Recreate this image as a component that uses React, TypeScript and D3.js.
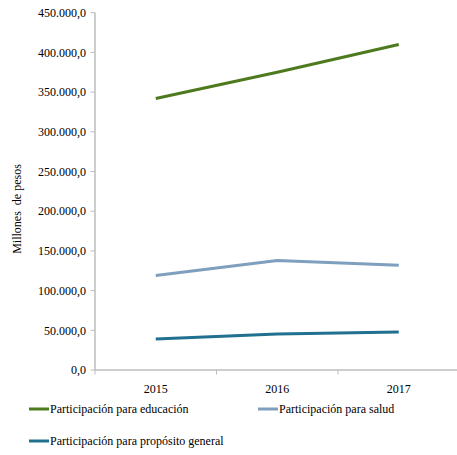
import React from "react";
import * as d3 from "d3";

const years = ["2015", "2016", "2017"];
const educacion = [342000, 375000, 410000];
const salud = [119000, 137800, 132000];
const general = [39100, 45400, 47900];
const yTicks = [0, 50000, 100000, 150000, 200000, 250000, 300000, 350000, 400000, 450000];
const seriesNames = [
  "Participación para educación",
  "Participación para salud",
  "Participación para propósito general",
];

const W = 457;
const H = 455;
const font = '"Times New Roman", "Liberation Serif", Tinos, serif';

export default function App() {
  const x = d3.scaleBand<string>().domain(years).range([95, 459.5]).padding(0);
  const y = d3.scaleLinear().domain([0, 450000]).range([370, 12.7]);
  const fmt = (v: number) => {
    const s = d3.format(",.1f")(v);
    return s.replace(/,/g, "#").replace(".", ",").replace(/#/g, ".");
  };
  const line = d3
    .line<number>()
    .x((_, i) => (x(years[i]) as number) + x.bandwidth() / 2)
    .y((d) => y(d));
  const series = [
    { name: seriesNames[0], data: educacion, color: "#4e7a1e" },
    { name: seriesNames[1], data: salud, color: "#7f9fbe" },
    { name: seriesNames[2], data: general, color: "#21708f" },
  ];
  const legendPos = [
    { x: 29, y: 409 },
    { x: 258, y: 409 },
    { x: 29, y: 441 },
  ];
  const axisColor = "#bcbcbc";
  const boundaries = [95, ...years.map((yr) => (x(yr) as number) + x.bandwidth())];
  return (
    <svg
      width={W}
      height={H}
      style={{ position: "absolute", left: 0, top: 0, background: "#fff" }}
    >
      <style>{`text { font-family: ${font}; font-size: 12px; fill: #000; }`}</style>
      {/* y axis */}
      <line x1={95} x2={95} y1={y(450000)} y2={370} stroke={axisColor} strokeWidth={1.5} />
      {yTicks.map((t) => (
        <g key={t}>
          <line x1={90.5} x2={95} y1={y(t)} y2={y(t)} stroke={axisColor} strokeWidth={1} />
          <text x={86} y={y(t)} dy="0.35em" textAnchor="end">
            {fmt(t)}
          </text>
        </g>
      ))}
      {/* x axis */}
      <line x1={95} x2={W} y1={370} y2={370} stroke={axisColor} strokeWidth={1.5} />
      {boundaries.map((b, i) => (
        <line key={i} x1={b} x2={b} y1={370} y2={374.5} stroke={axisColor} strokeWidth={1} />
      ))}
      {years.map((yr) => (
        <text
          key={yr}
          x={(x(yr) as number) + x.bandwidth() / 2}
          y={393}
          textAnchor="middle"
        >
          {yr}
        </text>
      ))}
      {/* y title */}
      <text
        transform="translate(21,209) rotate(-90)"
        textAnchor="middle"
        style={{ whiteSpace: "pre" }}
      >
        {"Millones  de pesos"}
      </text>
      {/* lines */}
      {series.map((s) => (
        <path
          key={s.name}
          d={line(s.data) || ""}
          fill="none"
          stroke={s.color}
          strokeWidth={3}
          strokeLinejoin="round"
        />
      ))}
      {/* legend */}
      {series.map((s, i) => (
        <g key={s.name}>
          <line
            x1={legendPos[i].x}
            x2={legendPos[i].x + 20}
            y1={legendPos[i].y}
            y2={legendPos[i].y}
            stroke={s.color}
            strokeWidth={3}
          />
          <text x={legendPos[i].x + 21} y={legendPos[i].y} dy="0.35em">
            {s.name}
          </text>
        </g>
      ))}
    </svg>
  );
}
